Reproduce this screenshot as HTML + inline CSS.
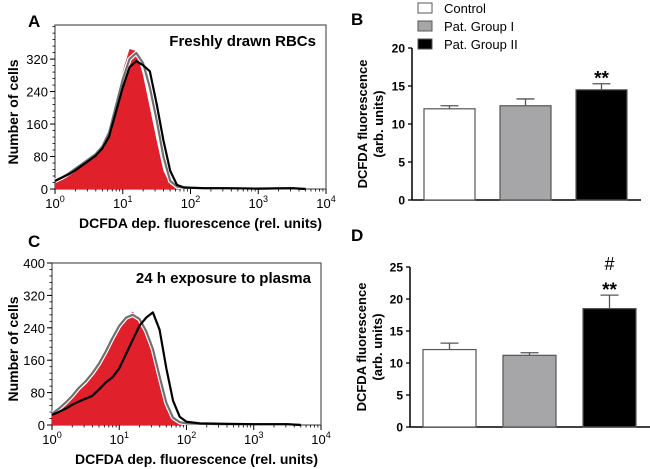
<!DOCTYPE html>
<html><head><meta charset="utf-8"><style>
body{margin:0;background:#fff;}
svg{display:block;font-family:"Liberation Sans",Arial,sans-serif;}
.b{font-weight:bold}
</style></head><body>
<svg id="fig" width="650" height="469" viewBox="0 0 650 469" xmlns="http://www.w3.org/2000/svg"></svg>
<script>
// Histogram data: log10(fluorescence) bins
const logBins = [0,0.1,0.2,0.3,0.4,0.5,0.6,0.7,0.8,0.9,1.0,1.1,1.2,1.3,1.4,1.5,1.6,1.7,1.8,1.9,2.0,2.2,2.5,3.0,3.5,3.7];
const histA_control = [18,28,38,50,62,75,88,110,150,220,290,345,340,280,200,120,45,12,4,2,1,1,0,0,0,0];
const histA_group1  = [20,28,38,50,62,74,86,105,140,205,270,320,335,310,250,170,80,20,6,3,3,2,2,1,2,0];
const histA_group2  = [20,28,36,46,58,70,82,100,130,190,250,300,315,305,290,210,120,45,10,4,3,2,2,1,2,0];
const histC_control = [25,36,50,66,85,100,120,145,175,210,240,265,280,265,230,180,105,40,12,5,2,1,0,0,0,0];
const histC_group1  = [28,40,55,72,92,108,128,152,182,215,245,265,272,262,232,188,120,55,18,7,4,3,2,2,2,0];
const histC_group2  = [25,32,40,50,58,65,72,88,105,118,140,175,210,245,265,278,235,140,60,20,8,4,3,2,2,0];
const yTicksHist = [0,80,160,240,320];
const yTicksHistC = [0,80,160,240,320,400];
const decades = [0,1,2,3,4];
// Bar data
const groups = ["Control","Pat. Group I","Pat. Group II"];
const barsB = [12.0,12.4,14.5];
const errB = [0.4,0.9,0.8];
const barsD = [12.1,11.2,18.5];
const errD = [1.0,0.4,2.1];
const yTicksB = [0,5,10,15,20];
const yTicksD = [0,5,10,15,20,25];
const fills = ["#ffffff","#a6a6a8","#000000"];

const NS="http://www.w3.org/2000/svg";
const svg=document.getElementById('fig');
function el(tag,attrs,parent,name,inter){
  const e=document.createElementNS(NS,tag);
  for(const k in attrs)e.setAttribute(k,attrs[k]);
  
  
  (parent||svg).appendChild(e);return e;
}
function txt(x,y,s,attrs,name){const t=el('text',Object.assign({x:x,y:y},attrs),svg,name,false);t.textContent=s;return t;}

function histPanel(o){
  const x0=o.x0,x1=o.x1,yb=o.yb,yt=o.yt,ymax=o.ymax;
  const sx=v=>x0+(x1-x0)*v/4;
  const sy=v=>yb-(yb-yt)*v/ymax;
  el('rect',{x:x0,y:yt,width:x1-x0,height:yb-yt,fill:'none',stroke:'#555','stroke-width':1.2},svg,o.id+'-plot-frame',false);
  function pathFor(arr){
    let d='M'+sx(logBins[0])+','+sy(arr[0]);
    for(let i=1;i<logBins.length;i++){d+=' L'+sx(logBins[i])+','+sy(arr[i]);}
    return d;
  }
  const dc=pathFor(o.c);
  el('path',{d:dc+' L'+sx(logBins[logBins.length-1])+','+yb+' L'+sx(0)+','+yb+' Z',fill:'#e0202a',stroke:'none'},svg,o.id+'-control-histogram',false);
  el('path',{d:pathFor(o.g1),fill:'none',stroke:'#ffffff','stroke-width':4.5,'stroke-linejoin':'round'},svg,o.id+'-halo',false);
  el('path',{d:pathFor(o.g1),fill:'none',stroke:'#707070','stroke-width':2.2,'stroke-linejoin':'round'},svg,o.id+'-group1-histogram',false);
  el('path',{d:pathFor(o.g2),fill:'none',stroke:'#000','stroke-width':2.2,'stroke-linejoin':'round'},svg,o.id+'-group2-histogram',false);
  o.yt_.forEach(v=>{
    el('line',{x1:x0-5,x2:x0,y1:sy(v),y2:sy(v),stroke:'#000'},svg,o.id+'-y-tick',false);
    txt(x0-7,sy(v)+5,String(v),{'font-size':13,'text-anchor':'end'},o.id+'-y-tick-label');
  });
  for(let v=0;v<=ymax;v+=16){el('line',{x1:x0-2.5,x2:x0,y1:sy(v),y2:sy(v),stroke:'#000','stroke-width':0.8},svg,o.id+'-y-minor-tick',false);}
  decades.forEach(d=>{
    el('line',{x1:sx(d),x2:sx(d),y1:yb,y2:yb+5,stroke:'#000'},svg,o.id+'-x-tick',false);
    const t=txt(sx(d),yb+19,'10',{'font-size':13,'text-anchor':'middle'},o.id+'-x-tick-label');
    const s=document.createElementNS(NS,'tspan');s.setAttribute('dy','-6');s.setAttribute('font-size','9');s.textContent=String(d);t.appendChild(s);
    if(d<4)for(let k=2;k<10;k++){const xm=sx(d+Math.log10(k));el('line',{x1:xm,x2:xm,y1:yb,y2:yb+2.5,stroke:'#000','stroke-width':0.8},svg,o.id+'-x-minor-tick',false);}
  });
  txt(o.lx,o.ly,o.letter,{'font-size':17,'class':'b'},o.id+'-panel-letter');
  txt(x1-10,o.ty,o.title,{'font-size':15,'class':'b','text-anchor':'end'},o.id+'-panel-title');
  txt(0,0,'Number of cells',{'font-size':14,'class':'b','text-anchor':'middle',transform:'translate(18,'+((yb+yt)/2+5)+') rotate(-90)'},o.id+'-y-axis-title');
  txt((x0+x1)/2+10,o.xly,'DCFDA dep. fluorescence (rel. units)',{'font-size':14,'class':'b','text-anchor':'middle'},o.id+'-x-axis-title');
}
histPanel({id:'a',x0:55,x1:326,yb:189,yt:25,ymax:404,c:histA_control,g1:histA_group1,g2:histA_group2,yt_:yTicksHist,letter:'A',lx:28,ly:27,title:'Freshly drawn RBCs',ty:46,xly:228});
histPanel({id:'c',x0:52,x1:321,yb:425,yt:263,ymax:400,c:histC_control,g1:histC_group1,g2:histC_group2,yt_:yTicksHistC,letter:'C',lx:28,ly:247,title:'24 h exposure to plasma',ty:283,xly:464});

function barPanel(o){
  const sy=v=>o.yb-(o.yb-o.yt)*v/o.ymax;
  el('line',{x1:o.ax,x2:o.ax,y1:o.yt,y2:o.yb,stroke:'#000','stroke-width':1.5},svg,o.id+'-y-axis',false);
  el('line',{x1:o.ax,x2:o.axEnd,y1:o.yb,y2:o.yb,stroke:'#000','stroke-width':1.5},svg,o.id+'-x-axis',false);
  o.ticks.forEach(v=>{
    el('line',{x1:o.ax-4,x2:o.ax,y1:sy(v),y2:sy(v),stroke:'#000','stroke-width':1.3},svg,o.id+'-y-tick',false);
    txt(o.ax-7,sy(v)+4.5,String(v),{'font-size':12,'class':'b','text-anchor':'end'},o.id+'-y-tick-label');
  });
  o.vals.forEach((v,i)=>{
    const x=o.bx[i],w=o.bw;
    el('line',{x1:x+w/2,x2:x+w/2,y1:sy(v),y2:sy(v+o.err[i]),stroke:'#555','stroke-width':1.3},svg,o.id+'-error-bar',false);
    el('line',{x1:x+w/2-9,x2:x+w/2+9,y1:sy(v+o.err[i]),y2:sy(v+o.err[i]),stroke:'#555','stroke-width':1.3},svg,o.id+'-error-cap',false);
    el('rect',{x:x,y:sy(v),width:w,height:o.yb-sy(v),fill:fills[i],stroke:'#555','stroke-width':1.2},svg,o.id+'-bar-'+i,false);
  });
  const cx=o.bx[2]+o.bw/2;
  const top=sy(o.vals[2]+o.err[2]);
  txt(cx,top+1,'**',{'font-size':19,'class':'b','text-anchor':'middle'},o.id+'-significance');
  if(o.hash)txt(cx,top-25,'#',{'font-size':18,'text-anchor':'middle'},o.id+'-hash-significance');
  txt(o.lx,o.ly,o.letter,{'font-size':17,'class':'b'},o.id+'-panel-letter');
  const g=el('text',{'font-size':13,'class':'b','text-anchor':'middle',transform:'translate('+o.tx+','+((o.yb+o.yt)/2)+') rotate(-90)'},svg,o.id+'-y-axis-title',false);
  const t1=document.createElementNS(NS,'tspan');t1.setAttribute('x',0);t1.setAttribute('dy',-3);t1.textContent='DCFDA fluorescence';g.appendChild(t1);
  const t2=document.createElementNS(NS,'tspan');t2.setAttribute('x',0);t2.setAttribute('dy',16);t2.textContent='(arb. units)';g.appendChild(t2);
}
barPanel({id:'b',ax:412,axEnd:641,yb:200,yt:48,ymax:20,ticks:yTicksB,vals:barsB,err:errB,bx:[424,500,576],bw:51,letter:'B',lx:351,ly:25,tx:370});
barPanel({id:'d',ax:410,axEnd:650,yb:427,yt:267,ymax:25,ticks:yTicksD,vals:barsD,err:errD,bx:[423,503,583],bw:53,letter:'D',lx:351,ly:241,tx:369,hash:true});
groups.forEach((g,i)=>{
  const y=3+i*18;
  el('rect',{x:418,y:y,width:14,height:10,fill:fills[i],stroke:'#555','stroke-width':1},svg,'legend-swatch-'+i,false);
  txt(444,y+10,g,{'font-size':13},'legend-label-'+i);
});
</script>
</body></html>
